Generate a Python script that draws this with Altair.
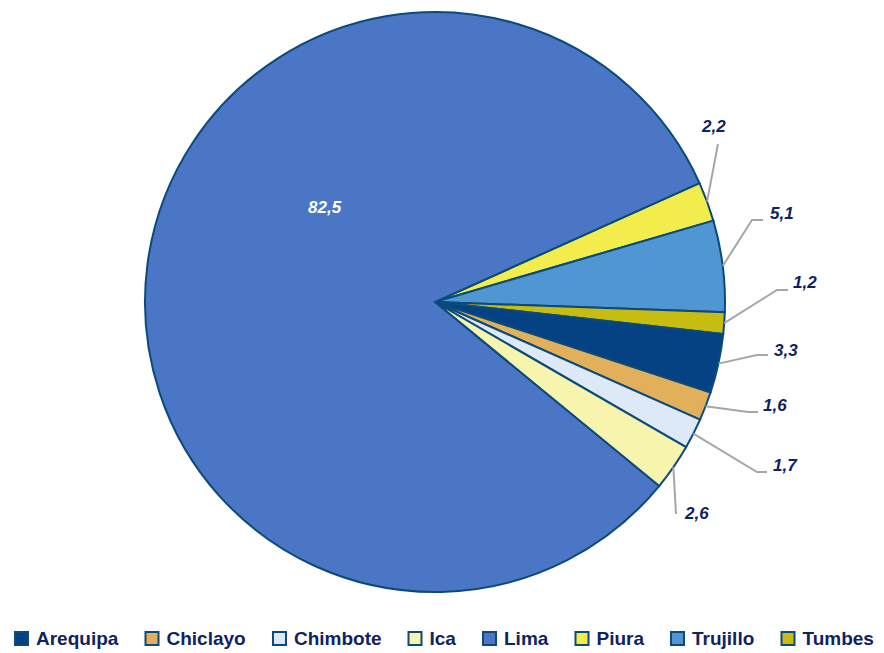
import math
import altair as alt
import pandas as pd

# ---- data ----
regions = ["Piura", "Trujillo", "Tumbes", "Arequipa", "Chiclayo", "Chimbote", "Ica", "Lima"]
shares = [2.2, 5.1, 1.2, 3.3, 1.6, 1.7, 2.6, 82.5]
labels = ["2,2", "5,1", "1,2", "3,3", "1,6", "1,7", "2,6", "82,5"]

legend_order = ["Arequipa", "Chiclayo", "Chimbote", "Ica", "Lima", "Piura", "Trujillo", "Tumbes"]
palette = {
    "Arequipa": "#044284",
    "Chiclayo": "#e2b05a",
    "Chimbote": "#dde9f6",
    "Ica": "#f7f4ad",
    "Lima": "#4a76c5",
    "Piura": "#f2ec4c",
    "Trujillo": "#4f96d3",
    "Tumbes": "#c6bc12",
}

# ---- layout / style ----
W, H = 854, 584
R = 290
START = math.radians(65.8)          # where the first slice (Piura) begins, clockwise from 12 o'clock
FONT = "Liberation Sans, Arial, sans-serif"
NAVY = "#0f2262"
EDGE = "#0b4a7a"
LEADER = "#a6a6a6"

# leader-line end points and label anchors, as offsets (px) from the pie centre
label_layout = {
    "Piura":    dict(end=(283, -158), elbow=0,  text=(267, -175)),
    "Trujillo": dict(end=(328, -82),  elbow=11, text=(335, -88)),
    "Tumbes":   dict(end=(353, -12),  elbow=11, text=(358, -19)),
    "Arequipa": dict(end=(333, 53),   elbow=11, text=(339, 49)),
    "Chiclayo": dict(end=(323, 110),  elbow=10, text=(328, 104)),
    "Chimbote": dict(end=(332, 170),  elbow=10, text=(338, 164)),
    "Ica":      dict(end=(241, 212),  elbow=0,  text=(250, 212)),
    "Lima":     dict(end=None,        elbow=0,  text=(-127, -94)),
}

df = pd.DataFrame({"region": regions, "share": shares, "label": labels,
                   "ord": list(range(len(regions)))})

total = sum(shares)
rows_line, rows_text = [], []
cum = 0.0
for reg, s, lab in zip(regions, shares, labels):
    mid = START + 2 * math.pi * (cum + s / 2) / total
    cum += s
    lay = label_layout[reg]
    tx, ty = lay["text"]
    rows_text.append(dict(region=reg, label=lab, x=tx, y=ty,
                          tcolor="#ffffff" if reg == "Lima" else NAVY))
    if lay["end"] is not None:
        sx, sy = R * math.sin(mid), -R * math.cos(mid)
        ex, ey = lay["end"]
        pts = [(sx, sy), (ex - lay["elbow"], ey), (ex, ey)]
        for i, (px, py) in enumerate(pts):
            rows_line.append(dict(region=reg, seq=i, x=px, y=py))

lines_df = pd.DataFrame(rows_line)
text_df = pd.DataFrame(rows_text)

xscale = alt.Scale(domain=[-W / 2, W / 2], nice=False, zero=False)
yscale = alt.Scale(domain=[-H / 2, H / 2], nice=False, zero=False, reverse=True)

pie = alt.Chart(df).mark_arc(outerRadius=R, stroke=EDGE, strokeWidth=2).encode(
    theta=alt.Theta("share:Q", stack=True,
                    scale=alt.Scale(range=[START, START + 2 * math.pi])),
    order=alt.Order("ord:Q"),
    color=alt.Color(
        "region:N",
        scale=alt.Scale(domain=legend_order, range=[palette[r] for r in legend_order]),
        legend=alt.Legend(
            title=None, orient="none", legendX=4, legendY=619,
            direction="horizontal", columns=8, columnPadding=22.5,
            symbolType="square", symbolSize=169, symbolStrokeColor=EDGE,
            symbolStrokeWidth=2, symbolOpacity=1,
            labelFont=FONT, labelFontSize=19, labelFontWeight="bold",
            labelColor=NAVY, labelOffset=5, labelLimit=200,
        ),
    ),
)

leaders = alt.Chart(lines_df).mark_line(color=LEADER, strokeWidth=2).encode(
    x=alt.X("x:Q", scale=xscale, axis=None),
    y=alt.Y("y:Q", scale=yscale, axis=None),
    detail="region:N",
    order="seq:Q",
)

texts = alt.Chart(text_df).mark_text(
    align="left", baseline="middle", font=FONT, fontSize=17,
    fontWeight="bold", fontStyle="italic",
).encode(
    x=alt.X("x:Q", scale=xscale, axis=None),
    y=alt.Y("y:Q", scale=yscale, axis=None),
    text="label:N",
    color=alt.Color("tcolor:N", scale=None),
)

chart = alt.layer(pie, leaders, texts).properties(
    width=W, height=H, padding=0, background="#ffffff"
).configure_view(stroke=None)

chart.save("out.html", embed_options={"renderer": "svg", "actions": False})
